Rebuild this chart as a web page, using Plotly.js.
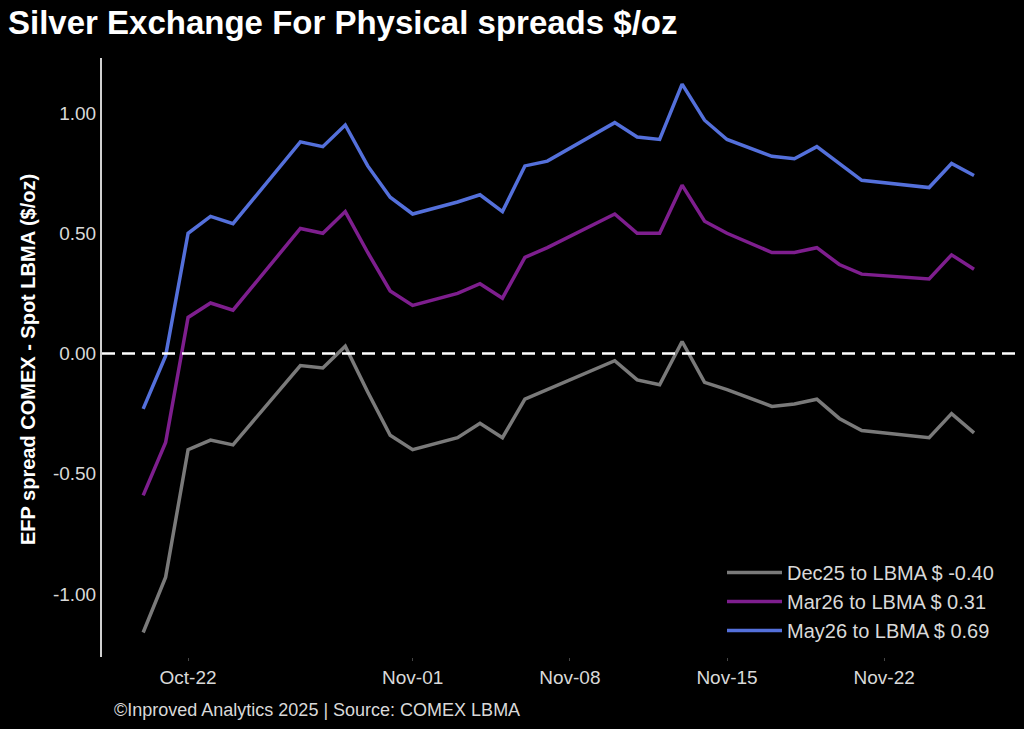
<!DOCTYPE html>
<html>
<head>
<meta charset="utf-8">
<script src="https://cdn.plot.ly/plotly-3.0.1.min.js"></script>
<style>
  html, body { margin: 0; padding: 0; background: #000; }
  #chart { width: 1024px; height: 729px; }
</style>
</head>
<body>
<div id="chart"></div>
<script>
const dates = ['2025-10-20','2025-10-21','2025-10-22','2025-10-23','2025-10-24',
  '2025-10-27','2025-10-28','2025-10-29','2025-10-30','2025-10-31','2025-11-01',
  '2025-11-03','2025-11-04','2025-11-05','2025-11-06','2025-11-07',
  '2025-11-10','2025-11-11','2025-11-12','2025-11-13','2025-11-14','2025-11-15',
  '2025-11-17','2025-11-18','2025-11-19','2025-11-20','2025-11-21',
  '2025-11-24','2025-11-25','2025-11-26'];

const dec25 = [-1.16, -0.93, -0.40, -0.36, -0.38,
  -0.05, -0.06, 0.03, -0.16, -0.34, -0.40,
  -0.35, -0.29, -0.35, -0.19, -0.15,
  -0.03, -0.11, -0.13, 0.05, -0.12, -0.15,
  -0.22, -0.21, -0.19, -0.27, -0.32,
  -0.35, -0.25, -0.33];

const mar26 = [-0.59, -0.37, 0.15, 0.21, 0.18,
  0.52, 0.50, 0.59, 0.42, 0.26, 0.20,
  0.25, 0.29, 0.23, 0.40, 0.44,
  0.58, 0.50, 0.50, 0.70, 0.55, 0.50,
  0.42, 0.42, 0.44, 0.37, 0.33,
  0.31, 0.41, 0.35];

const may26 = [-0.23, -0.01, 0.50, 0.57, 0.54,
  0.88, 0.86, 0.95, 0.78, 0.65, 0.58,
  0.63, 0.66, 0.59, 0.78, 0.80,
  0.96, 0.90, 0.89, 1.12, 0.97, 0.89,
  0.82, 0.81, 0.86, 0.79, 0.72,
  0.69, 0.79, 0.74];

const seriesNames = ['Dec25 to LBMA $ -0.40', 'Mar26 to LBMA $ 0.31', 'May26 to LBMA $ 0.69'];

const xTickVals = ['2025-10-22','2025-11-01','2025-11-08','2025-11-15','2025-11-22'];
const xTickText = ['Oct-22','Nov-01','Nov-08','Nov-15','Nov-22'];
const yTickVals = [-1, -0.5, 0, 0.5, 1];
const yTickText = ['-1.00','-0.50','0.00','0.50','1.00'];

const FONT = '"Liberation Sans", Arial, Helvetica, sans-serif';
const colors = ['#7a7a7a', '#7e1e8e', '#5470db'];
const ys = [dec25, mar26, may26];

const traces = ys.map((y, i) => ({
  type: 'scatter',
  mode: 'lines',
  x: dates,
  y: y,
  name: seriesNames[i],
  line: { color: colors[i], width: 3.5 },
  hoverinfo: 'skip'
}));

const layout = {
  width: 1024,
  height: 729,
  paper_bgcolor: '#000000',
  plot_bgcolor: '#000000',
  margin: { l: 102, r: 6, t: 58, b: 72 },
  font: { family: FONT, color: '#d9d9d9', size: 18 },
  title: {
    text: '<b>Silver Exchange For Physical spreads $/oz</b>',
    font: { family: FONT, size: 33, color: '#ffffff' },
    x: 8 / 1024, xref: 'container', xanchor: 'left',
    y: 1 - 22 / 729, yref: 'container', yanchor: 'middle'
  },
  xaxis: {
    type: 'date',
    range: ['2025-10-18 04:00', '2025-11-27 23:00'],
    tickvals: xTickVals,
    ticktext: xTickText,
    tickfont: { family: FONT, size: 19, color: '#d9d9d9' },
    showgrid: false,
    zeroline: false,
    showline: false,
    ticks: 'outside',
    ticklen: 3,
    tickcolor: '#444444',
    tickwidth: 1
  },
  yaxis: {
    range: [-1.262, 1.2287],
    tickvals: yTickVals,
    ticktext: yTickText,
    tickfont: { family: FONT, size: 19, color: '#d9d9d9' },
    showgrid: false,
    zeroline: false,
    showline: true,
    linecolor: '#d0d0d0',
    linewidth: 2,
    ticks: ''
  },
  legend: {
    xref: 'paper', yref: 'paper',
    x: (722 - 102) / 916, y: (657 - 553) / 599,
    xanchor: 'left', yanchor: 'top',
    itemwidth: 55,
    bgcolor: 'rgba(0,0,0,0)',
    font: { family: FONT, size: 20, color: '#d9d9d9' }
  },
  showlegend: true,
  shapes: [{
    type: 'line', xref: 'paper', yref: 'y',
    x0: 0, x1: 1, y0: 0, y1: 0,
    line: { color: '#ffffff', width: 2.5, dash: '13px,7px' },
    layer: 'above'
  }],
  annotations: [
    {
      text: '<b>EFP spread COMEX - Spot LBMA ($/oz)</b>',
      xref: 'paper', yref: 'paper',
      x: (28 - 102) / 916, y: (657 - 360) / 599,
      xanchor: 'center', yanchor: 'middle',
      textangle: -90, showarrow: false,
      font: { family: FONT, size: 20, color: '#ffffff' }
    },
    {
      text: '©Inproved Analytics 2025 | Source: COMEX LBMA',
      xref: 'paper', yref: 'paper',
      x: (112 - 102) / 916, y: (657 - 710) / 599,
      xanchor: 'left', yanchor: 'middle',
      showarrow: false,
      font: { family: FONT, size: 18, color: '#d9d9d9' }
    }
  ]
};

Plotly.newPlot('chart', traces, layout, { staticPlot: true, displayModeBar: false });
</script>
</body>
</html>
